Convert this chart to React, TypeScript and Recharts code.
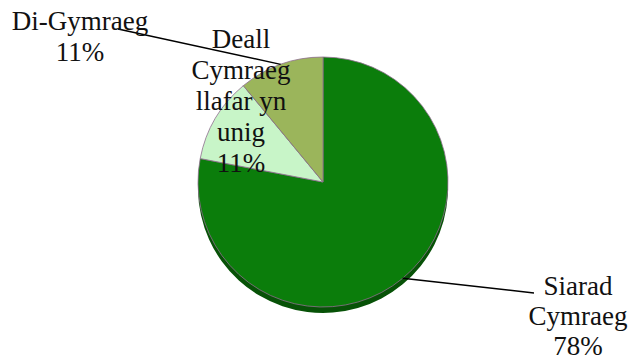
import { PieChart, Pie, Cell } from "recharts";

// #region Data
const categories = ["Siarad Cymraeg", "Deall Cymraeg llafar yn unig", "Di-Gymraeg"];
const shares = [78, 11, 11];
const labelLines = [
  ["Siarad", "Cymraeg"],
  ["Deall", "Cymraeg", "llafar yn", "unig"],
  ["Di-Gymraeg"],
];
// #endregion

const colors = ["#0b7d0b", "#c8f5c8", "#9bb55b"];

// where each label sits (centre x, first baseline, line gap) and its leader line end
const labelSpots = [
  { x: 578, y: 295, gap: 30, lineTo: [534, 293] },
  { x: 241, y: 48, gap: 31, lineTo: null },
  { x: 80, y: 30, gap: 31, lineTo: [118, 29] },
];

const data = categories.map((name, i) => ({ name, value: shares[i] }));

const FONT = "'Liberation Serif', 'DejaVu Serif', serif";
const RAD = Math.PI / 180;

const renderLabel = (props: any) => {
  const { cx, cy, midAngle, outerRadius, index, percent } = props;
  const spot = labelSpots[index];
  const lines = [...labelLines[index], `${Math.round(percent * 100)}%`];
  const sx = cx + outerRadius * Math.cos(-midAngle * RAD);
  const sy = cy + outerRadius * Math.sin(-midAngle * RAD);
  return (
    <g key={`lbl-${index}`}>
      {spot.lineTo && (
        <line
          x1={sx}
          y1={sy}
          x2={spot.lineTo[0]}
          y2={spot.lineTo[1]}
          stroke="#000"
          strokeWidth={1.5}
        />
      )}
      <text
        x={spot.x}
        y={spot.y}
        textAnchor="middle"
        fontFamily={FONT}
        fontSize={27}
        fill="#111"
      >
        {lines.map((t, i) => (
          <tspan key={i} x={spot.x} dy={i === 0 ? 0 : spot.gap}>
            {t}
          </tspan>
        ))}
      </text>
    </g>
  );
};

const App = () => {
  return (
    <div style={{ position: "absolute", left: 0, top: 0, background: "#fff" }}>
      <PieChart width={632} height={361} margin={{ top: 0, right: 0, left: 0, bottom: 0 }}>
        {/* soft shadow under the pie */}
        <Pie
          data={data}
          dataKey="value"
          cx={323}
          cy={188}
          outerRadius={125}
          startAngle={90}
          endAngle={-270}
          stroke="none"
          fill="#075207"
          isAnimationActive={false}
        />
        <Pie
          data={data}
          dataKey="value"
          nameKey="name"
          cx={323}
          cy={182}
          outerRadius={125}
          startAngle={90}
          endAngle={-270}
          stroke="#8e6f8e"
          strokeWidth={0.8}
          label={renderLabel}
          labelLine={false}
          isAnimationActive={false}
        >
          {data.map((d, i) => (
            <Cell key={d.name} fill={colors[i]} />
          ))}
        </Pie>
      </PieChart>
    </div>
  );
};

export default App;
